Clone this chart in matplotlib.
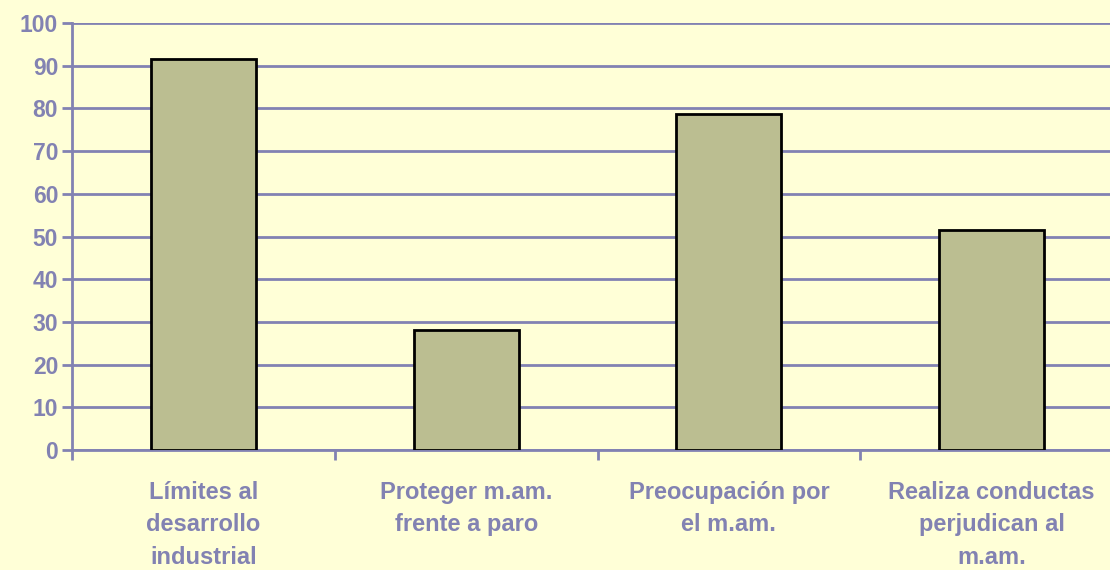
import matplotlib.pyplot as plt
from matplotlib.ticker import FixedLocator

# datos
categorias = ['Límites al\ndesarrollo\nindustrial', 'Proteger m.am.\nfrente a paro',
              'Preocupación por\nel m.am.', 'Realiza conductas\nperjudican al\nm.am.']
valores = [91.6, 28.1, 78.7, 51.6]
yticks = [0, 10, 20, 30, 40, 50, 60, 70, 80, 90, 100]

fondo = '#FFFFD7'
azul = '#8282B2'

plt.rcParams['font.family'] = ['Liberation Sans', 'DejaVu Sans']

fig = plt.figure(figsize=(11.1, 5.7), dpi=100, facecolor=fondo)
ax = fig.add_axes([0.0649, 0.2105, 0.9468, 0.749])
ax.set_facecolor(fondo)

x = range(len(valores))
ax.bar(x, valores, width=0.4, color='#BBBE91', edgecolor='black', linewidth=2, zorder=3)

ax.set_ylim(0, 100)
ax.set_xlim(-0.5, 3.5)
ax.set_yticks(yticks)
ax.set_yticklabels([str(t) for t in yticks], fontsize=16.5, fontweight='bold', color=azul)
ax.yaxis.grid(True, color=azul, linewidth=2, zorder=0)
ax.set_axisbelow(True)

ax.set_xticks(list(x))
ax.set_xticklabels(categorias, fontsize=17, fontweight='bold', color=azul, linespacing=1.55)
ax.xaxis.set_minor_locator(FixedLocator([-0.5, 0.5, 1.5, 2.5, 3.5]))
ax.tick_params(axis='x', which='major', length=0, pad=22)
ax.tick_params(axis='x', which='minor', length=7, width=2, color=azul)
ax.tick_params(axis='y', length=7, width=2, color=azul, pad=3)

for lado in ['top', 'right']:
    ax.spines[lado].set_visible(False)
for lado in ['left', 'bottom']:
    ax.spines[lado].set_color(azul)
    ax.spines[lado].set_linewidth(2)

fig.savefig('out.png', dpi=100, facecolor=fondo)
